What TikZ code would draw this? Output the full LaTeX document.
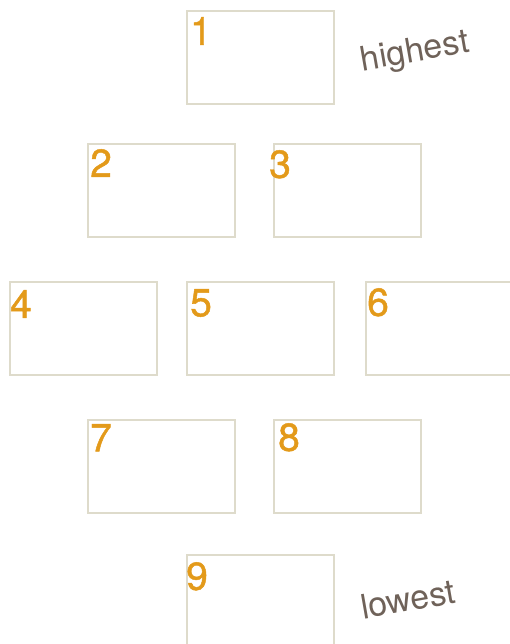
\documentclass[tikz,border=0pt]{standalone}
\usepackage{fontspec}
\setmainfont{TeX Gyre Heros}
\newfontfamily\numfont[FakeBold=1.2]{TeX Gyre Heros}
\definecolor{boxline}{HTML}{DEDBCB}
\definecolor{numcol}{HTML}{E39A1A}
\definecolor{tagcol}{HTML}{6F6259}

\begin{document}
\begin{tikzpicture}[x=1pt,y=-1pt,
  slot/.style={draw=boxline,line width=2.6pt,minimum width=147pt,
               minimum height=93pt,inner sep=0pt},
  num/.style={anchor=north west,inner sep=0pt,text=numcol,
              font=\numfont\fontsize{39}{39}\selectfont},
  tag/.style={text=tagcol,rotate=10,inner sep=0pt,
              font=\fontsize{34}{34}\selectfont}]
 \useasboundingbox (0,0) rectangle (510,644);
 % slots, top row to bottom row
 \node[slot] (b1) at (260.5,57.5) {};
 \node[slot] (b2) at (161.5,190.5) {};
 \node[slot] (b3) at (347.5,190.5) {};
 \node[slot] (b4) at (83.5,328.5) {};
 \node[slot] (b5) at (260.5,328.5) {};
 \node[slot] (b6) at (439.5,328.5) {};
 \node[slot] (b7) at (161.5,466.5) {};
 \node[slot] (b8) at (347.5,466.5) {};
 \node[slot] (b9) at (260.5,601.5) {};
 % numbers
 \node[num] (n1) at (190,17) {1};
 \node[num] (n2) at (90,149) {2};
 \node[num] (n3) at (269,150) {3};
 \node[num] (n4) at (10,290) {4};
 \node[num] (n5) at (190,289) {5};
 \node[num] (n6) at (367,288) {6};
 \node[num] (n7) at (90,424) {7};
 \node[num] (n8) at (278,423) {8};
 \node[num] (n9) at (186,562) {9};
 \node[tag] (hi) at (415,53) {highest};
 \node[tag] (lo) at (408,599) {lowest};
\end{tikzpicture}
\end{document}
